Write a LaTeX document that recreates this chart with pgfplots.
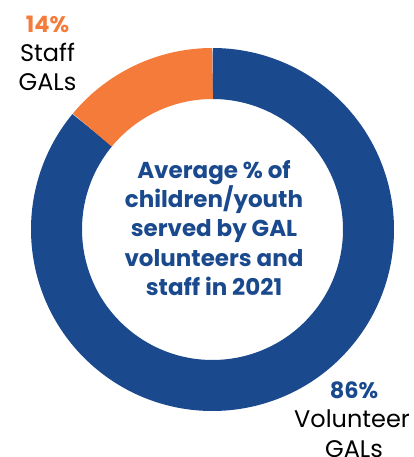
\documentclass[border=0pt]{standalone}
\usepackage{pgfplots}
\usepackage{pgfplotstable}
\pgfplotsset{compat=1.18}
\usepackage{fontspec}
\setmainfont{Poppins}

\definecolor{galblue}{HTML}{1A4A8D}
\definecolor{galorange}{HTML}{F47B3A}

% share of children/youth served (percent)
\pgfplotstableread{
label share
Volunteer 86
Staff 14
}\sharetable

\begin{document}
\begin{tikzpicture}
\pgfplotstablegetelem{0}{share}\of\sharetable \let\volshare\pgfplotsretval
\pgfplotstablegetelem{1}{share}\of\sharetable \let\staffshare\pgfplotsretval
\pgfmathsetmacro{\staffend}{90+3.6*\staffshare}
\pgfmathsetmacro{\volend}{\staffend+3.6*\volshare}
\begin{axis}[
    scale only axis,
    width=414pt, height=457pt,
    xmin=0, xmax=414, ymin=0, ymax=457,
    hide axis, clip=false,
]
    % donut ring: 1 unit = 1pt, centre (212.5,227.5)
    \draw[line width=51pt, galblue] (axis cs:212.5,227.5) ++(\staffend:156pt)
        arc[start angle=\staffend, end angle=\volend, radius=156pt];
    \draw[line width=51pt, galorange] (axis cs:212.5,227.5) ++(90:156pt)
        arc[start angle=90, end angle=\staffend, radius=156pt];

    % outer labels
    \node[anchor=base, text=galorange, font=\bfseries\fontsize{22.5}{25}\selectfont]
        at (axis cs:47.5,424) {\staffshare\%};
    \node[anchor=base, font=\fontsize{24}{25}\selectfont] at (axis cs:47.5,395) {Staff};
    \node[anchor=base, font=\fontsize{24}{25}\selectfont] at (axis cs:47.5,366) {GALs};

    \node[anchor=base, text=galblue, font=\bfseries\fontsize{22.5}{25}\selectfont]
        at (axis cs:354,58) {\volshare\%};
    \node[anchor=base, font=\fontsize{24}{25}\selectfont] at (axis cs:352,29) {Volunteer};
    \node[anchor=base, font=\fontsize{24}{25}\selectfont] at (axis cs:354,0) {GALs};

    % centre title
    \begin{scope}[every node/.style={anchor=base, text=galblue,
        font=\bfseries\fontsize{23}{25}\selectfont}]
    \node at (axis cs:214,278) {Average \% of};
    \node at (axis cs:214,249) {children/youth};
    \node at (axis cs:214,220) {served by GAL};
    \node at (axis cs:214,190) {volunteers and};
    \node at (axis cs:214,161) {staff in 2021};
    \end{scope}
\end{axis}
\pgfresetboundingbox
\useasboundingbox (0,0) rectangle (414pt,457pt);
\end{tikzpicture}
\end{document}
